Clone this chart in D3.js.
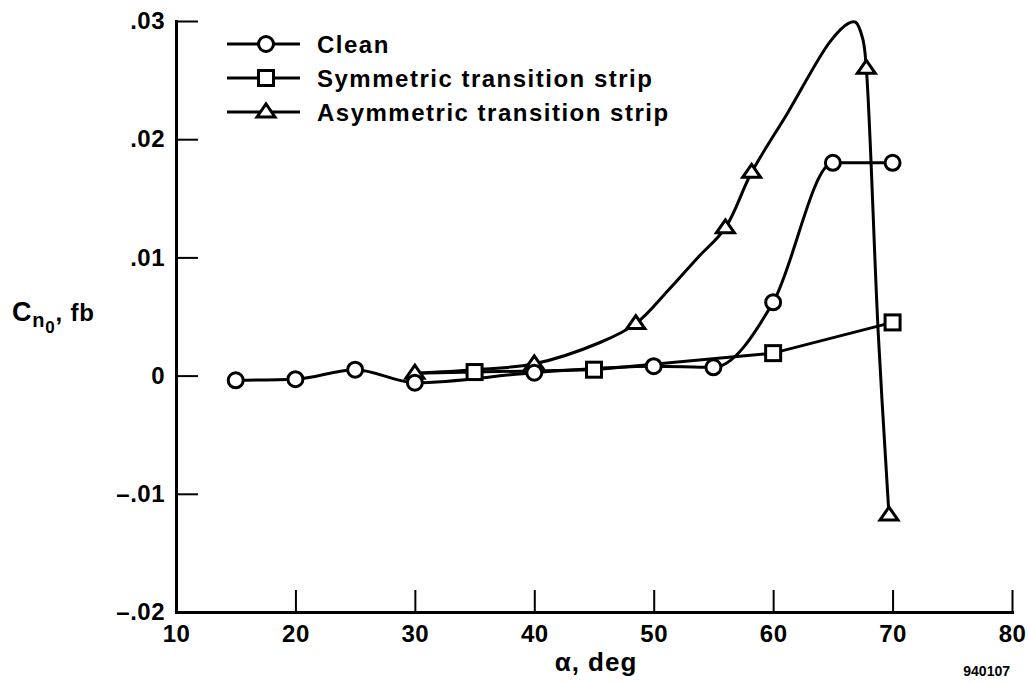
<!DOCTYPE html>
<html>
<head>
<meta charset="utf-8">
<script src="https://cdn.jsdelivr.net/npm/d3@7"></script>
<style>
  html, body { margin: 0; padding: 0; background: #fff; }
  svg { display: block; font-family: "Liberation Sans", Arial, sans-serif; font-weight: bold; }
</style>
</head>
<body>
<svg id="chart" width="1029" height="684"></svg>
<script>
// Yawing moment at zero sideslip vs angle of attack
const cleanAlpha = [15, 20, 25, 30, 40, 50, 55, 60, 65, 70];
const cleanCn    = [-0.0004, -0.0003, 0.0005, -0.0006, 0.00025, 0.0008, 0.0007, 0.0062, 0.018, 0.018];

const symAlpha = [35, 45, 60, 70];
const symCn    = [0.0003, 0.0005, 0.0019, 0.0045];

const asymAlpha = [30, 40, 48.5, 56, 58.2, 67.8, 69.7];
const asymCn    = [0.0002, 0.001, 0.0044, 0.0125, 0.0172, 0.026, -0.0118];

// faired curve drawn through the asymmetric-strip data
const asymFairAlpha = [30, 35, 40, 45.5, 48.5, 51.2, 53.7, 56, 58.2, 61.2, 64.8, 66.3, 66.9, 67.5, 67.8, 68.8, 69.7];
const asymFairCn    = [0.0002, 0.0005, 0.001, 0.0028, 0.0044, 0.0072, 0.01, 0.0125, 0.0172, 0.0222, 0.0283, 0.0298, 0.0299, 0.0285, 0.026, 0.0036, -0.0118];

const xTicks = [10, 20, 30, 40, 50, 60, 70, 80];
const yTicks = [-0.02, -0.01, 0, 0.01, 0.02, 0.03];
const yTickLabels = ["\u2013.02", "\u2013.01", "0", ".01", ".02", ".03"];

const legendLabels = ["Clean", "Symmetric transition strip", "Asymmetric transition strip"];

const svg = d3.select("#chart");
const x = d3.scaleLinear().domain([10, 80]).range([176, 1012]);
const y = d3.scaleLinear().domain([-0.02, 0.03]).range([612, 21]);

const ink = "#000";
const lw = 3;

// axes with inward ticks
const gx = svg.append("g").attr("transform", `translate(0,${y(-0.02)})`)
  .call(d3.axisBottom(x).tickValues(xTicks).tickFormat(d3.format("d"))
    .tickSizeInner(-22).tickSizeOuter(0).tickPadding(13));
const gy = svg.append("g").attr("transform", `translate(${x(10)},0)`)
  .call(d3.axisLeft(y).tickValues(yTicks).tickFormat((d, i) => yTickLabels[i])
    .tickSizeInner(-22).tickSizeOuter(0).tickPadding(11));

[gx, gy].forEach(g => {
  g.select(".domain").attr("stroke", ink).attr("stroke-width", lw).attr("stroke-linecap", "square");
  g.selectAll(".tick line").attr("stroke", ink).attr("stroke-width", 2);
  g.selectAll(".tick text").attr("fill", ink)
    .style("font-size", "24px").style("font-weight", "bold")
    .style("letter-spacing", "0.5px")
    .style("font-family", "'Liberation Sans', Arial, sans-serif");
});

// axis titles
svg.append("text")
  .attr("x", x(45) + 2).attr("y", 671)
  .attr("text-anchor", "middle")
  .style("font-size", "26px").style("letter-spacing", "1px")
  .text("\u03b1, deg");

const yt = svg.append("text").attr("x", 12).attr("y", 321)
  .style("font-size", "27px").style("letter-spacing", "0.8px");
yt.append("tspan").text("C");
yt.append("tspan").attr("dy", 6).style("font-size", "20px").text("n");
yt.append("tspan").attr("dy", 6).style("font-size", "17px").text("0");
yt.append("tspan").attr("dy", -12).style("font-size", "24px").text(", fb");

svg.append("text")
  .attr("x", 1010).attr("y", 676).attr("text-anchor", "end")
  .style("font-size", "14px")
  .text("940107");

// lines
const lineGen = d3.line().x(d => x(d[0])).y(d => y(d[1]));
const zip = (a, b) => a.map((v, i) => [v, b[i]]);

svg.append("path").datum(zip(symAlpha, symCn))
  .attr("d", lineGen.curve(d3.curveLinear))
  .attr("fill", "none").attr("stroke", ink).attr("stroke-width", lw);

svg.append("path").datum([[30, asymCn[0]], [35, symCn[0]]])
  .attr("d", lineGen.curve(d3.curveLinear))
  .attr("fill", "none").attr("stroke", ink).attr("stroke-width", lw);

svg.append("path").datum(zip(cleanAlpha, cleanCn))
  .attr("d", lineGen.curve(d3.curveMonotoneX))
  .attr("fill", "none").attr("stroke", ink).attr("stroke-width", lw);

svg.append("path").datum(zip(asymFairAlpha, asymFairCn))
  .attr("d", lineGen.curve(d3.curveCatmullRom.alpha(0.5)))
  .attr("fill", "none").attr("stroke", ink).attr("stroke-width", lw).attr("stroke-linejoin", "round");

// markers
function circleMark(g, cx, cy) {
  g.append("circle").attr("cx", cx).attr("cy", cy).attr("r", 7.5)
    .attr("fill", "#fff").attr("stroke", ink).attr("stroke-width", lw);
}
function squareMark(g, cx, cy) {
  g.append("rect").attr("x", cx - 7.5).attr("y", cy - 7.5).attr("width", 15).attr("height", 15)
    .attr("fill", "#fff").attr("stroke", ink).attr("stroke-width", lw);
}
function triMark(g, cx, cy) {
  g.append("path")
    .attr("d", `M${cx - 9},${cy + 5}L${cx + 9},${cy + 5}L${cx},${cy - 8}Z`)
    .attr("fill", "#fff").attr("stroke", ink).attr("stroke-width", lw).attr("stroke-linejoin", "miter");
}

const mk = svg.append("g");
symAlpha.forEach((a, i) => squareMark(mk, x(a), y(symCn[i])));
asymAlpha.forEach((a, i) => triMark(mk, x(a), y(asymCn[i])));
cleanAlpha.forEach((a, i) => circleMark(mk, x(a), y(cleanCn[i])));

// legend
const legRows = [44, 78, 112];
const legMarks = [circleMark, squareMark, triMark];
legendLabels.forEach((lab, i) => {
  const ly = legRows[i];
  svg.append("line").attr("x1", 227).attr("x2", 300).attr("y1", ly).attr("y2", ly)
    .attr("stroke", ink).attr("stroke-width", lw);
  legMarks[i](svg, 266, ly);
  svg.append("text").attr("x", 317).attr("y", ly + 8.5)
    .style("font-size", "24px").style("letter-spacing", "1.5px").text(lab);
});
</script>
</body>
</html>
